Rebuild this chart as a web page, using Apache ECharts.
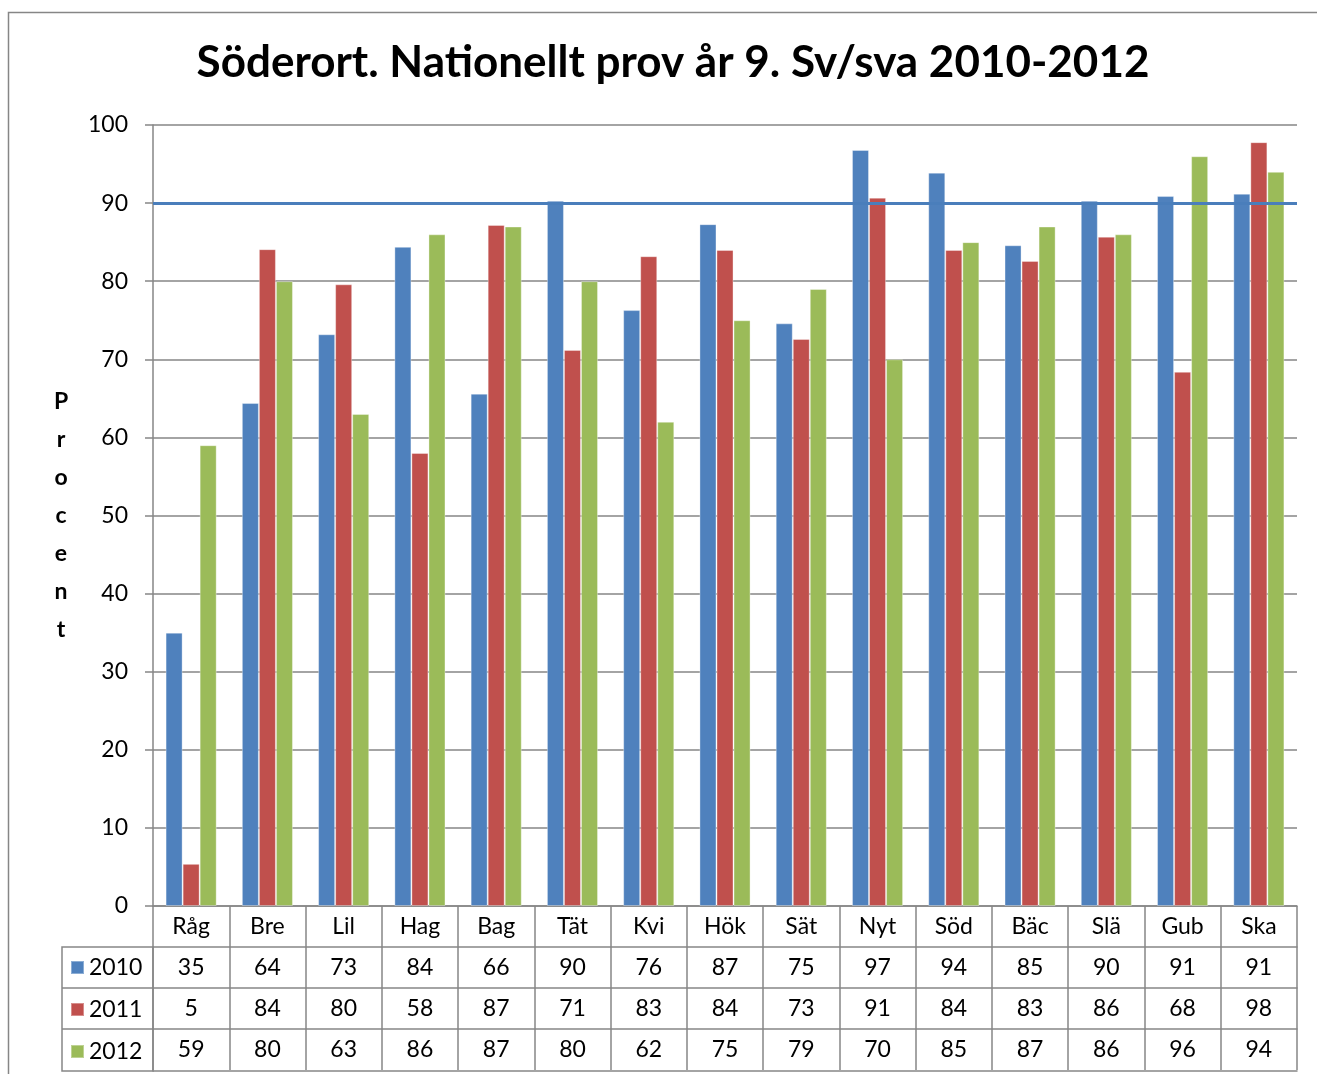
<!DOCTYPE html>
<html>
<head>
<meta charset="utf-8">
<script src="https://cdn.jsdelivr.net/npm/echarts@6/dist/echarts.min.js"></script>
<style>
  html, body { margin: 0; padding: 0; background: #fff; }
  #chart { width: 1317px; height: 1074px; }
</style>
</head>
<body>
<div id="chart"></div>
<script>
// skolor
const categories = ['Råg', 'Bre', 'Lil', 'Hag', 'Bag', 'Tät', 'Kvi', 'Hök', 'Sät', 'Nyt', 'Söd', 'Bäc', 'Slä', 'Gub', 'Ska']
const years = ['2010', '2011', '2012']

// procent per år (avläst från staplarna)
const values2010 = [35, 64.4, 73.2, 84.4, 65.6, 90.3, 76.3, 87.3, 74.6, 96.8, 93.9, 84.6, 90.3, 90.9, 91.2]
const values2011 = [5.4, 84.1, 79.6, 58.0, 87.2, 71.2, 83.2, 84.0, 72.6, 90.7, 84.0, 82.6, 85.7, 68.4, 97.8]
const values2012 = [59, 80, 63, 86, 87, 80, 62, 75, 79, 70, 85, 87, 86, 96, 94]

const targetLine = 90
const yTicks = [0, 10, 20, 30, 40, 50, 60, 70, 80, 90, 100]

const colors = ['#4f81bd', '#c0504d', '#9bbb59']
const gray = '#868686'
const font = 'Lato'

const rows = [values2010, values2011, values2012]
const rowH = 41
const tableLeft = 62
const plotLeft = 153
const plotBottom = 906

// datatabell: en extra x-axel per rad
let tableAxes = rows.map(function(row, r) {
    return {
        type: 'category',
        data: categories,
        position: 'bottom',
        offset: rowH * (r + 1),
        axisLine: { lineStyle: { color: gray, width: 1.5 } },
        axisTick: { show: true, interval: 0, length: rowH, lineStyle: { color: gray, width: 1.5 } },
        axisLabel: {
            interval: 0,
            margin: rowH / 2,
            verticalAlign: 'middle',
            fontFamily: font,
            fontSize: 23,
            color: '#000',
            formatter: function(v, i) { return String(Math.round(row[i])) }
        },
        splitLine: { show: false }
    }
})

let option = {
    animation: false,
    color: colors,
    title: {
        text: 'Söderort. Nationellt prov år 9. Sv/sva 2010-2012',
        left: 668,
        top: 36,
        textAlign: 'center',
        textStyle: { fontFamily: font, fontSize: 44, fontWeight: 'bold', color: '#000' }
    },
    legend: {
        data: years,
        orient: 'vertical',
        left: 70,
        top: 956,
        padding: 0,
        itemGap: 19,
        itemWidth: 13,
        itemHeight: 13,
        icon: 'rect',
        selectedMode: false,
        textStyle: { fontFamily: font, fontSize: 23, lineHeight: 22, color: '#000' }
    },
    grid: {
        left: plotLeft,
        right: 20,
        top: 125,
        bottom: 1074 - plotBottom
    },
    xAxis: [
        {
            type: 'category',
            data: categories,
            position: 'bottom',
            axisLine: { lineStyle: { color: gray, width: 1.5 } },
            axisTick: { show: true, interval: 0, length: rowH, lineStyle: { color: gray, width: 1.5 } },
            axisLabel: {
                interval: 0,
                margin: rowH / 2,
                verticalAlign: 'middle',
                fontFamily: font,
                fontSize: 23,
                color: '#000'
            }
        }
    ].concat(tableAxes).concat([
        {
            type: 'category',
            data: categories,
            position: 'bottom',
            offset: rowH * 4 + 1,
            axisLine: { lineStyle: { color: gray, width: 1.5 } },
            axisTick: { show: false },
            axisLabel: { show: false }
        }
    ]),
    yAxis: {
        type: 'value',
        min: yTicks[0],
        max: yTicks[yTicks.length - 1],
        interval: 10,
        name: 'Procent'.split('').join('\n'),
        nameLocation: 'middle',
        nameRotate: 0,
        nameGap: 92,
        nameTextStyle: { fontFamily: font, fontSize: 23, fontWeight: 'bold', lineHeight: 38, align: 'center', padding: [10, 0, 0, 0], color: '#000' },
        axisLine: { show: true, lineStyle: { color: gray, width: 1.5 } },
        axisTick: { show: true, length: 8, lineStyle: { color: gray, width: 1.5 } },
        axisLabel: { margin: 25, fontFamily: font, fontSize: 23, color: '#000' },
        splitLine: { lineStyle: { color: gray, width: 1.5 } }
    },
    series: years.map(function(y, i) {
        let s = {
            name: y,
            type: 'bar',
            data: rows[i],
            barGap: '0%',
            barCategoryGap: '33%',
            itemStyle: { borderColor: 'rgba(255,255,255,0.35)', borderWidth: 1 }
        }
        if (i === 0) {
            s.markLine = {
                silent: true,
                symbol: 'none',
                label: { show: false },
                lineStyle: { color: '#4a7ebb', width: 3, type: 'solid' },
                data: [{ yAxis: targetLine }]
            }
        }
        return s
    }),
    graphic: [
        // ram runt diagrammet
        { type: 'rect', shape: { x: 8.5, y: 12.5, width: 1400, height: 1100 }, style: { fill: 'none', stroke: gray, lineWidth: 1.5 } },
        // vänstra kolumnen i datatabellen
        { type: 'rect', shape: { x: tableLeft, y: plotBottom + rowH, width: plotLeft - tableLeft, height: rowH * 3 + 1 }, style: { fill: 'none', stroke: gray, lineWidth: 1.5 } },
        { type: 'line', shape: { x1: tableLeft, y1: plotBottom + rowH * 2, x2: plotLeft, y2: plotBottom + rowH * 2 }, style: { stroke: gray, lineWidth: 1.5 } },
        { type: 'line', shape: { x1: tableLeft, y1: plotBottom + rowH * 3, x2: plotLeft, y2: plotBottom + rowH * 3 }, style: { stroke: gray, lineWidth: 1.5 } }
    ]
}

let chart = echarts.init(document.getElementById('chart'))
chart.setOption(option)
</script>
</body>
</html>
